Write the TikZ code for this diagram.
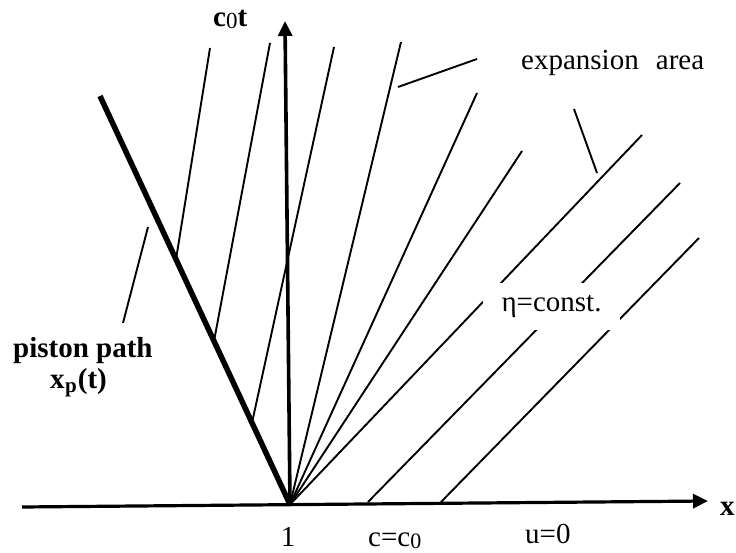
\documentclass[tikz,border=0pt]{standalone}
\usepackage{fontspec}
\setmainfont{Liberation Serif}
\usetikzlibrary{arrows.meta,calc}
\begin{document}
\begin{tikzpicture}[x=1pt,y=-1pt,
  thinline/.style={line width=1.9pt},
  axisline/.style={line width=3.2pt,-{Triangle[length=15pt,width=14pt]}},
  pistonline/.style={line width=5.5pt},
  lbl/.style={font=\fontsize{29}{34}\selectfont, inner sep=0pt},
  blbl/.style={font=\fontsize{29}{34}\selectfont\bfseries, inner sep=0pt}]
\useasboundingbox (0,0) rectangle (736,553);
% key points
\coordinate (xl) at (22,507);
\coordinate (xr) at (708,501);
\coordinate (O) at (290,504.5);
\coordinate (yt) at (285,21);
\coordinate (P) at (100,96);
% reflected characteristics starting on the piston path
\coordinate (A0) at ($(O)!0.6!(P)$); \coordinate (A1) at (210,48);
\coordinate (B0) at ($(O)!0.4!(P)$); \coordinate (B1) at (270,43);
\coordinate (C0) at ($(O)!0.2!(P)$); \coordinate (C1) at (334,47);
\draw[thinline] (A0) -- (A1);
\draw[thinline] (B0) -- (B1);
\draw[thinline] (C0) -- (C1);
% expansion fan
\coordinate (D1) at (401,42);
\coordinate (E1) at (477,93);
\coordinate (F1) at (522,151);
\coordinate (G1) at (642,135);
\draw[thinline] (O) -- (D1);
\draw[thinline] (O) -- (E1);
\draw[thinline] (O) -- (F1);
\draw[thinline] (O) -- (G1);
% parallel characteristics of the undisturbed region
\coordinate (H0) at (368,502); \coordinate (H1) at (680,183);
\coordinate (I0) at (441,502); \coordinate (I1) at (699,238);
\draw[thinline] (H0) -- (H1);
\draw[thinline] (I0) -- (I1);
% label pointers
\coordinate (pp0) at (148,227); \coordinate (pp1) at (123,323);
\draw[thinline] (pp0) -- (pp1);
\coordinate (ea0) at (398,87); \coordinate (ea1) at (477,59);
\coordinate (eb0) at (574,109); \coordinate (eb1) at (597,173);
\draw[thinline] (ea0) -- (ea1);
\draw[thinline] (eb0) -- (eb1);
% eta label with white background cutting the lines
\node[lbl, fill=white, minimum width=137pt, minimum height=47pt] (eta) at (551.5,306.5) {η=const.};
% piston path
\draw[pistonline] (O) -- (P);
% axes
\draw[axisline] (xl) -- (xr);
\draw[axisline, line width=3.6pt] (O) -- (yt);
% labels
\node[blbl, anchor=base west] (ct) at (213,27) {c{\fontsize{23}{23}\mdseries\selectfont\raisebox{-1.5pt}{0}}t};
\node[blbl, anchor=base west] (xlab) at (720,515) {x};
\node[lbl, anchor=base west] (exp) at (521,70) {expansion\hspace{0.59em}area};
\node[blbl, anchor=base west] (pp) at (13,357) {piston path};
\node[blbl, anchor=base west] (xp) at (50,388) {x\kern0.5pt{\fontsize{21}{21}\selectfont\raisebox{-4pt}{p}}\kern1pt(t)};
\node[lbl, anchor=base] (one) at (288,546) {1};
\node[lbl, anchor=base west] (cc) at (368,546) {c=c{\fontsize{22}{22}\selectfont\raisebox{-2pt}{0}}};
\node[lbl, anchor=base west] (u) at (525,543) {u=0};
\end{tikzpicture}
\end{document}
